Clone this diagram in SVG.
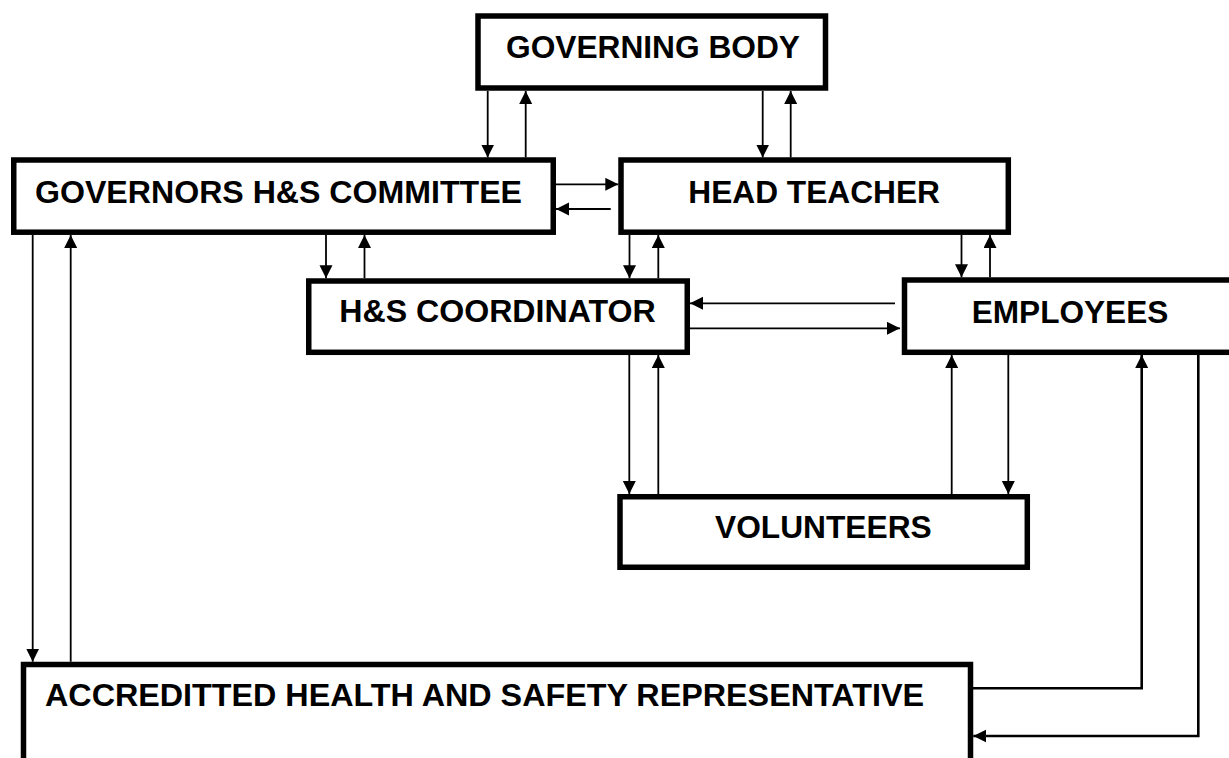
<svg xmlns="http://www.w3.org/2000/svg" width="1229" height="758" viewBox="0 0 1229 758">
<style>
.box{fill:#fff;stroke:#000;stroke-width:5.5}
.lbl{font-family:"Liberation Sans",Arial,sans-serif;font-weight:bold;font-size:31.5px;fill:#000}
.c{fill:none;stroke:#000;stroke-width:1.8;marker-end:url(#ah)}
.t{stroke-width:2.6}
</style>
<defs>
<marker id="ah" markerUnits="userSpaceOnUse" markerWidth="14" markerHeight="14" refX="13" refY="6.5" orient="auto">
<path d="M0,0 L13,6.5 L0,13 z" fill="#000"/>
</marker>
</defs>
<rect width="1229" height="758" fill="#fff"/>
<g id="connectors">
<line class="c" x1="487.7" y1="91" x2="487.7" y2="157.5"/>
<line class="c" x1="525.7" y1="157.5" x2="525.7" y2="91"/>
<line class="c" x1="762.7" y1="91" x2="762.7" y2="157.5"/>
<line class="c" x1="790.7" y1="157.5" x2="790.7" y2="91"/>
<line class="c" x1="556" y1="184.3" x2="618.3" y2="184.3"/>
<line class="c" x1="610.7" y1="209" x2="556" y2="209"/>
<line class="c" x1="326" y1="235" x2="326" y2="278.3"/>
<line class="c" x1="364.5" y1="278.3" x2="364.5" y2="235"/>
<line class="c" x1="629.5" y1="235" x2="629.5" y2="278.3"/>
<line class="c" x1="658.3" y1="278.3" x2="658.3" y2="235"/>
<line class="c" x1="961.5" y1="235" x2="961.5" y2="277.3"/>
<line class="c" x1="990" y1="277.3" x2="990" y2="235"/>
<line class="c" x1="895" y1="303.3" x2="690" y2="303.3"/>
<line class="c" x1="690" y1="328.3" x2="900" y2="328.3"/>
<line class="c" x1="629.3" y1="355" x2="629.3" y2="494"/>
<line class="c" x1="658.3" y1="494" x2="658.3" y2="355"/>
<line class="c" x1="951.7" y1="494" x2="951.7" y2="355"/>
<line class="c" x1="1008.3" y1="355" x2="1008.3" y2="494"/>
<line class="c" x1="32.7" y1="235" x2="32.7" y2="661.7"/>
<line class="c" x1="70.7" y1="661.7" x2="70.7" y2="235"/>
<polyline class="c t" points="973,688.3 1141.7,688.3 1141.7,355"/>
<polyline class="c t" points="1198.3,355 1198.3,736 973.3,736"/>
</g>
<g id="governing-body">
<rect class="box" x="478" y="16" width="347.5" height="72"/>
<text class="lbl" x="506" y="58.3" textLength="294" lengthAdjust="spacingAndGlyphs">GOVERNING BODY</text>
</g>
<g id="governors-committee">
<rect class="box" x="13.75" y="160" width="539.5" height="72.2"/>
<text class="lbl" x="35" y="203.3" textLength="487" lengthAdjust="spacingAndGlyphs">GOVERNORS H&amp;S COMMITTEE</text>
</g>
<g id="head-teacher">
<rect class="box" x="621" y="160" width="387.3" height="72.2"/>
<text class="lbl" x="688.3" y="202.7" textLength="251.7" lengthAdjust="spacingAndGlyphs">HEAD TEACHER</text>
</g>
<g id="hs-coordinator">
<rect class="box" x="308.75" y="281" width="378.5" height="71.3"/>
<text class="lbl" x="339.3" y="322.3" textLength="316.4" lengthAdjust="spacingAndGlyphs">H&amp;S COORDINATOR</text>
</g>
<g id="employees">
<rect class="box" x="904.5" y="280" width="340" height="72.3"/>
<text class="lbl" x="971.7" y="322.7" textLength="196.6" lengthAdjust="spacingAndGlyphs">EMPLOYEES</text>
</g>
<g id="volunteers">
<rect class="box" x="620" y="496.75" width="407.3" height="70.5"/>
<text class="lbl" x="715" y="538.3" textLength="216.7" lengthAdjust="spacingAndGlyphs">VOLUNTEERS</text>
</g>
<g id="accredited-rep">
<rect class="box" x="23.5" y="664.5" width="947" height="110"/>
<text class="lbl" x="45" y="705.7" textLength="879" lengthAdjust="spacingAndGlyphs">ACCREDITTED HEALTH AND SAFETY REPRESENTATIVE</text>
</g>
</svg>
